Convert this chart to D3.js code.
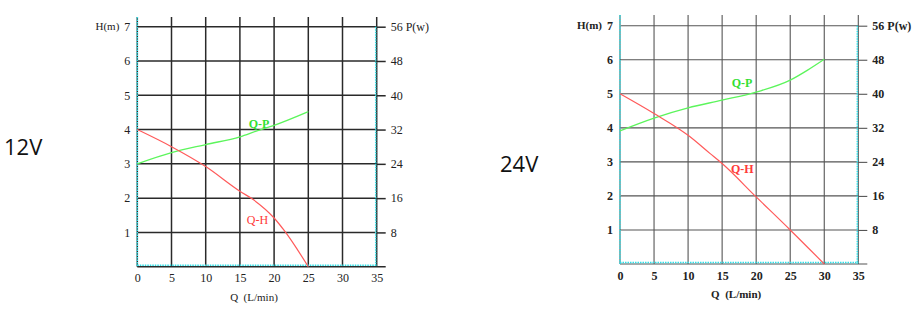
<!DOCTYPE html>
<html><head><meta charset="utf-8">
<script src="https://cdn.jsdelivr.net/npm/d3@7"></script>
<style>html,body{margin:0;padding:0;background:#fff;}svg{display:block;}</style>
</head><body>
<svg id="c" width="920" height="313"></svg>
<script>
const qTicks = [0, 5, 10, 15, 20, 25, 30, 35];
const hTicks = [1, 2, 3, 4, 5, 6, 7];
const pTicks = [8, 16, 24, 32, 40, 48, 56];

const q12H = [0, 5, 10, 15, 17, 20, 21.5, 25];
const h12 = [4, 3.5, 2.92, 2.2, 1.95, 1.42, 1.05, 0];
const q12P = [0, 5, 10, 15, 17.5, 20, 25];
const p12 = [24, 26.6, 28.5, 30.3, 31.7, 33, 36.2];

const q24H = [0, 5, 10, 13.2, 15, 20, 25, 30];
const h24 = [5, 4.42, 3.78, 3.25, 2.95, 1.97, 1.0, 0];
const q24P = [0, 5, 10, 15, 20, 25, 27.5, 30];
const p24 = [31.3, 34.3, 36.7, 38.5, 40.4, 43.2, 45.5, 48.1];

const svg = d3.select("#c");
const fmt = d3.format("d");

function chart(o) {
  const g = svg.append("g");
  const x = d3.scaleLinear().domain([0, 35]).range([o.x0, o.x1]);
  const h = d3.scaleLinear().domain([0, 7]).range([o.y0, o.y1]);
  const p = d3.scaleLinear().domain([0, 56]).range([o.y0, o.y1]);
  const fw = o.bold ? "bold" : "normal";
  const gridCol = o.gridCol, gw = o.gw;

  g.selectAll(".hg").data(hTicks).join("line")
    .attr("x1", x(0)).attr("x2", x(35))
    .attr("y1", d => h(d)).attr("y2", d => h(d))
    .attr("stroke", gridCol).attr("stroke-width", gw);
  g.selectAll(".vg").data(qTicks.slice(1, -1)).join("line")
    .attr("x1", d => x(d)).attr("x2", d => x(d))
    .attr("y1", o.top).attr("y2", h(0))
    .attr("stroke", gridCol).attr("stroke-width", gw);
  g.append("line").attr("x1", x(0)).attr("x2", x(0)).attr("y1", o.top).attr("y2", h(0))
    .attr("stroke", gridCol).attr("stroke-width", gw);
  const ra = g.append("g").attr("transform", `translate(${x(35)},0)`)
    .call(d3.axisRight(p).tickValues(pTicks).tickSize(o.tick).tickPadding(5).tickFormat(fmt));
  ra.select(".domain").remove();
  ra.append("line").attr("x1", 0).attr("x2", 0).attr("y1", o.top).attr("y2", h(0))
    .attr("stroke", gridCol).attr("stroke-width", gw);
  ra.selectAll(".tick line").attr("stroke", gridCol).attr("stroke-width", gw);
  ra.selectAll(".tick text").attr("fill", "#222").attr("font-family", "Liberation Serif")
    .attr("font-size", 12).attr("font-weight", fw)
    .text(d => d === 56 ? "56 P(w)" : fmt(d));
  g.append("line").attr("x1", x(0)).attr("x2", x(35) + o.tick).attr("y1", h(0)).attr("y2", h(0))
    .attr("stroke", gridCol).attr("stroke-width", gw);

  const cy = "#2fe0e8";
  g.append("line").attr("x1", x(0)).attr("x2", x(0)).attr("y1", o.top).attr("y2", h(0))
    .attr("stroke", cy).attr("stroke-width", 1.5).attr("stroke-dasharray", "1.5,1");
  g.append("line").attr("x1", x(35) - 1).attr("x2", x(35) - 1).attr("y1", h(7)).attr("y2", h(0))
    .attr("stroke", cy).attr("stroke-width", 1.5).attr("stroke-dasharray", "1.5,1");
  g.append("line").attr("x1", x(0)).attr("x2", x(35)).attr("y1", h(0) - 1.5).attr("y2", h(0) - 1.5)
    .attr("stroke", cy).attr("stroke-width", 1.5).attr("stroke-dasharray", "1.5,1");

  const la = g.append("g").attr("transform", `translate(${x(0)},0)`)
    .call(d3.axisLeft(h).tickValues(hTicks).tickSize(0).tickPadding(7).tickFormat(fmt));
  la.select(".domain").remove();
  la.selectAll(".tick text").attr("fill", "#222").attr("font-family", "Liberation Serif")
    .attr("font-size", 12).attr("font-weight", fw);
  g.append("text").attr("x", x(0) - 18).attr("y", h(7)).attr("dy", "0.32em")
    .attr("text-anchor", "end").attr("font-family", "Liberation Serif").attr("font-size", 11)
    .attr("font-weight", fw).attr("fill", "#222").text("H(m)");

  const ba = g.append("g").attr("transform", `translate(0,${h(0)})`)
    .call(d3.axisBottom(x).tickValues(qTicks).tickSize(0).tickPadding(7).tickFormat(fmt));
  ba.select(".domain").remove();
  ba.selectAll(".tick text").attr("fill", "#222").attr("font-family", "Liberation Serif")
    .attr("font-size", 12).attr("font-weight", fw);
  g.append("text").attr("x", x(17.5) - 3).attr("y", h(0) + 34)
    .attr("text-anchor", "middle").attr("font-family", "Liberation Serif").attr("font-size", 11)
    .attr("font-weight", fw).attr("fill", "#222").attr("xml:space", "preserve").text("Q  (L/min)");

  const lineH = d3.line().x(d => x(d[0])).y(d => h(d[1])).curve(d3.curveMonotoneX);
  const lineP = d3.line().x(d => x(d[0])).y(d => p(d[1])).curve(d3.curveMonotoneX);
  g.append("path").datum(o.qP.map((q, i) => [q, o.pv[i]])).attr("d", lineP)
    .attr("fill", "none").attr("stroke", "#5cf55c").attr("stroke-width", 1.3);
  g.append("path").datum(o.qH.map((q, i) => [q, o.hv[i]])).attr("d", lineH)
    .attr("fill", "none").attr("stroke", "#ff5a5a").attr("stroke-width", 1.2);

  g.append("text").attr("x", x(o.lpQ[0])).attr("y", h(o.lpQ[1])).attr("dy", "0.35em")
    .attr("font-family", "Liberation Serif").attr("font-size", 12).attr("font-weight", "bold")
    .attr("fill", "#33e033").text("Q-P");
  g.append("text").attr("x", x(o.lhQ[0])).attr("y", h(o.lhQ[1])).attr("dy", "0.35em")
    .attr("font-family", "Liberation Serif").attr("font-size", 12).attr("font-weight", o.bold ? "bold" : "normal")
    .attr("fill", "#ff3a3a").text("Q-H");

  svg.append("text").attr("x", o.vx).attr("y", o.vy).attr("font-family", "Open Sans")
    .attr("font-size", 22).attr("fill", "#111").text(o.volt);
}

chart({ x0: 137.3, x1: 376.7, y0: 266.7, y1: 26.7, top: 17, tick: 9, bold: false,
  gridCol: "#2a2a2a", gw: 1.5, qH: q12H, hv: h12, qP: q12P, pv: p12,
  lpQ: [16.3, 4.18], lhQ: [16.0, 1.37], volt: "12V", vx: 4, vy: 155 });
chart({ x0: 620, x1: 858.3, y0: 264, y1: 25.7, top: 15, tick: 9, bold: true,
  gridCol: "#555", gw: 1.1, qH: q24H, hv: h24, qP: q24P, pv: p24,
  lpQ: [16.4, 5.32], lhQ: [16.3, 2.81], volt: "24V", vx: 500, vy: 172 });
</script>
</body></html>
